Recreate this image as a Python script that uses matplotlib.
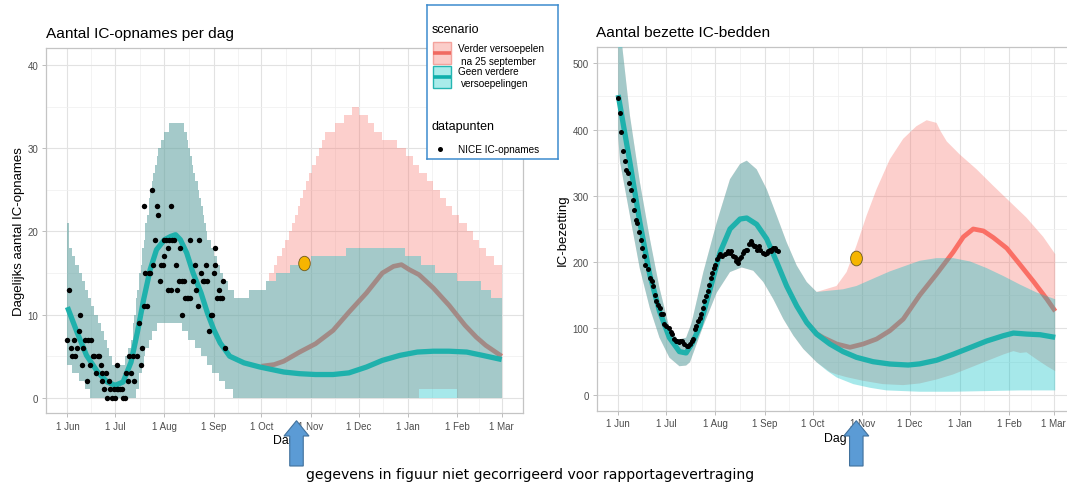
import numpy as np
import pandas as pd
import matplotlib
matplotlib.use("Agg")
import matplotlib.pyplot as plt
from matplotlib.patches import Polygon, Rectangle
from matplotlib.path import Path

plt.rcParams['font.family'] = ['Liberation Sans', 'DejaVu Sans']

# --- data: x = dagen sinds 1 juni 2020 ---
START = pd.Timestamp('2020-06-01')
month_starts = pd.date_range('2020-06-01', '2021-03-01', freq='MS')
month_labels = ['1 Jun', '1 Jul', '1 Aug', '1 Sep', '1 Oct', '1 Nov', '1 Dec', '1 Jan', '1 Feb', '1 Mar']
SPLIT_LEFT = 122     # 1 okt: scenario's lopen uiteen
SPLIT_RIGHT = 130

# links: IC-opnames per dag (trapvormige banden)
opn_hi_days = [0, 1, 3, 5, 7, 9, 11, 13, 15, 17, 19, 21, 23, 25, 26, 28, 36, 38, 40, 41,
               42, 43, 44, 45, 46, 47, 48, 49, 50, 51, 52, 53, 54, 55, 56, 57, 59, 61, 64, 73,
               75, 76, 77, 78, 79, 80, 82, 83, 84, 85, 86, 87, 88, 90, 92, 94, 96, 98, 101, 105,
               114, 125, 131, 140, 153, 175, 212, 222, 231, 245, 260, 266, 273]
opn_hi_vals = [21, 18, 17, 16, 15, 14, 13, 12, 11, 10, 9, 8, 7, 6, 5, 4, 5, 6, 7, 9,
               10, 12, 13, 15, 16, 18, 19, 21, 22, 24, 25, 26, 27, 28, 29, 30, 31, 32, 33, 32,
               31, 30, 29, 28, 27, 26, 25, 24, 23, 22, 21, 20, 19, 18, 17, 16, 15, 14, 13, 12,
               13, 14, 15, 16, 17, 18, 17, 16, 15, 14, 13, 12, 12]
opn_lo_days = [0, 3, 7, 11, 14, 43, 45, 47, 48, 49, 51, 53, 56, 72, 76, 80, 84, 88, 91, 95, 99, 104, 273]
opn_lo_vals = [4, 3, 2, 1, 0, 1, 3, 4, 5, 6, 7, 8, 9, 8, 7, 6, 5, 4, 3, 2, 1, 0, 0]
opn_red_hi_days = [125, 127, 130, 132, 135, 137, 139, 141, 143, 145, 146, 148, 150, 152, 154, 156, 158, 160,
                   162, 168, 174, 179, 183, 189, 193, 198, 207, 213, 217, 221, 226, 230, 234, 238, 242,
                   246, 251, 255, 259, 263, 268, 273]
opn_red_hi_vals = [14, 15, 16, 17, 18, 19, 20, 21, 22, 23, 24, 25, 26, 27, 28, 29, 30, 31,
                   32, 33, 34, 35, 34, 33, 32, 31, 30, 29, 28, 27, 26, 25, 24, 23, 22,
                   21, 20, 19, 18, 17, 16, 16]
opn_red_lo_days = [221, 245, 273]
opn_red_lo_vals = [1, 0, 0]
opn_line_days = [0, 6, 12, 19, 25, 30, 35, 40, 44, 48, 52, 56, 61, 65, 68, 71, 75, 79, 84, 88,
                 92, 96, 102, 111, 121, 136, 146, 156, 167, 177, 188, 198, 209, 220, 230, 240, 251, 261, 273]
opn_line_vals = [10.9, 7.9, 5.1, 3.1, 1.9, 1.5, 1.9, 4.3, 7.9, 11.9, 15.4, 17.8, 19.0, 19.4, 19.6, 19.0,
                 17.4, 15.0, 12.6, 10.2, 8.2, 6.6, 5.0, 4.2, 3.7, 3.1, 2.9, 2.8, 2.8, 3.0, 3.7, 4.5,
                 5.1, 5.5, 5.6, 5.6, 5.5, 5.1, 4.6]
opn_red_line_days = [122, 130, 136, 146, 156, 167, 177, 188, 198, 205, 210, 215, 221, 230, 240, 250, 257, 263, 273]
opn_red_line_vals = [3.8, 4.0, 4.4, 5.5, 6.5, 8.1, 10.3, 12.6, 15.0, 15.8, 16.0, 15.4, 14.8, 13.2, 11.1,
                     8.7, 7.3, 6.3, 5.0]
nice_opn_days = [0, 1, 2, 3, 4, 5, 6, 7, 8, 9, 10, 11, 12, 13, 14, 15, 16, 17, 18, 19,
                 20, 21, 22, 22, 23, 24, 25, 26, 27, 28, 29, 30, 31, 31, 32, 33, 34, 35, 36, 37,
                 38, 39, 40, 41, 42, 44, 45, 46, 47, 48, 48, 49, 50, 51, 52, 53, 54, 55, 56, 57,
                 58, 59, 60, 61, 61, 62, 63, 63, 64, 65, 65, 66, 67, 68, 69, 70, 71, 72, 72, 73,
                 74, 75, 76, 77, 77, 79, 80, 81, 82, 83, 84, 85, 86, 87, 88, 89, 90, 91, 92, 93,
                 93, 94, 95, 96, 97, 98, 99]
nice_opn_vals = [7, 13, 6, 5, 7, 5, 6, 8, 10, 4, 6, 7, 2, 7, 4, 7, 5, 5, 3, 5,
                 5, 4, 3, 2, 1, 3, 0, 2, 1, 0, 1, 0, 4, 1, 1, 1, 1, 0, 0, 3,
                 2, 5, 3, 5, 2, 5, 9, 4, 6, 11, 23, 15, 11, 15, 15, 25, 16, 19, 23, 22,
                 14, 16, 16, 17, 19, 19, 18, 13, 19, 23, 13, 19, 19, 16, 13, 14, 18, 14, 10, 14,
                 12, 12, 12, 19, 12, 14, 16, 13, 11, 19, 15, 14, 14, 16, 14, 8, 10, 10, 15, 18,
                 16, 12, 13, 12, 12, 14, 6]

# rechts: bezette IC-bedden
bed_hi_days = [0, 2.7, 7.3, 13.5, 19.8, 25.9, 32.1, 37.4, 42.6, 46, 53.4, 61.8, 70.1, 76.4, 80.6, 86.8,
               93.1, 99.4, 105.6, 111.9, 118.2, 124.4, 132.7, 141, 149.4, 159.8, 170.3, 180.8, 189, 199.6,
               210, 220.6, 231, 241.5, 252, 262.5, 274]
bed_hi_vals = [620, 522, 422, 322, 236, 161, 101, 83, 86, 108, 185, 260, 325, 348, 353, 340,
               310, 270, 230, 195, 170, 155, 157, 159, 164, 175, 186, 195, 202, 206,
               206, 201, 191, 179, 166, 154, 144]
bed_lo_days = [0, 1.1, 7.3, 13.5, 19.8, 25.9, 32.1, 38.4, 42.6, 45, 53.4, 61.8, 70.1, 77.4, 84.7, 91,
               97.3, 103.6, 109.9, 116.1, 124.4, 131, 137, 147.4, 157.8, 168.2, 189, 210, 231, 251.7, 274]
bed_lo_vals = [390, 352, 271, 191, 131, 86, 56, 43, 44, 49, 104, 154, 185, 192, 187, 170,
               144, 114, 89, 69, 49, 36, 26, 16, 10.5, 6.5, 4.5, 4.5, 5.5, 6.5, 6.5]
bed_red_hi_days = [132.7, 136.9, 143.2, 149.4, 155.7, 162, 170.3, 178.7, 187, 193.4, 199.6, 202, 206, 214.3,
                   224.7, 235.2, 245.6, 256, 266.5, 274]
bed_red_hi_vals = [161, 164, 185, 225, 270, 310, 355, 386, 405, 414, 410, 398, 382, 362, 340, 315, 291, 267, 238, 212]
bed_red_lo_days = [133, 137, 143.2, 153.6, 166, 178.7, 189, 199.6, 210, 220.6, 231, 241.5, 247.8,
                   252, 256, 262.5, 268.8, 274]
bed_red_lo_vals = [34, 30.6, 26.5, 21, 16, 14.5, 17, 23, 30.6, 40.7, 50.7, 60.7, 65.8, 63, 64, 53, 43, 35.6]
bed_line_days = [0, 7.3, 13.5, 19.8, 25.9, 32.1, 38.4, 42.6, 46.5, 51.3, 57.6, 63.9, 70.1, 76.4, 80.6,
                 86.8, 93.1, 99.4, 105.6, 111.9, 118.2, 124.4, 132.7, 141, 149.4, 159.8, 170.3, 181.8, 189,
                 199.6, 210, 220.6, 231, 241.5, 247.8, 256, 264.5, 274]
bed_line_vals = [452, 351, 261, 181, 126, 86, 65, 63, 78, 104, 159, 215, 250, 265, 266.5,
                 257, 235, 200, 164, 134, 109, 91.5, 76.5, 65, 56.4, 49.8, 46.3, 44.8, 46.5,
                 52, 61, 71, 81, 89, 93, 91.5, 90.5, 86.5]
bed_red_line_days = [118.2, 124.4, 128.6, 137, 145.3, 153.6, 162, 170.3, 178.7, 189, 199.6, 210, 216.4,
                     222.6, 229, 235.2, 243.6, 252, 260.3, 268.8, 274]
bed_red_line_vals = [109, 92, 86, 76.5, 71.5, 76.5, 84, 96.5, 114, 150, 182, 215, 238, 250, 247, 237,
                     221, 196, 171, 144, 126]
nice_bed_days = [0, 1, 2, 3, 4, 5, 6, 7, 8, 9, 10, 11, 12, 13, 14, 15, 16, 17, 19, 20,
                 21, 22, 23, 24, 25, 26, 27, 28, 29, 30, 32, 33, 34, 35, 36, 37, 38, 39, 40, 41,
                 43, 44, 45, 46, 47, 48, 49, 50, 51, 52, 53, 54, 55, 56, 57, 58, 59, 60, 61, 62,
                 63, 64, 65, 67, 68, 69, 70, 71, 72, 73, 74, 75, 76, 77, 78, 79, 80, 81, 82, 83,
                 84, 85, 86, 87, 88, 89, 91, 92, 93, 94, 95, 96, 97, 98, 99, 100]
nice_bed_vals = [448, 425, 397, 367, 352, 339, 334, 319, 309, 294, 279, 264, 259, 246, 234, 221, 209, 196, 189, 176,
                 171, 164, 151, 141, 136, 131, 121, 121, 106, 104, 101, 94, 91, 84, 81, 81, 79, 81, 81, 76,
                 73, 73, 76, 81, 84, 99, 104, 111, 116, 121, 131, 141, 149, 156, 166, 176, 184, 191, 196, 204,
                 209, 212, 209, 212, 214, 217, 214, 217, 209, 207, 202, 199, 204, 207, 214, 217, 219, 219, 227, 232,
                 227, 224, 224, 219, 224, 219, 214, 212, 214, 217, 219, 217, 221, 222, 219, 217]

# gele markering (eind oktober)
mark_day = 149
mark_opn = 16.2
mark_bed = 206

RED = '#F8766D'
RED_LINE = '#FA6F65'
CYAN = '#00BFC4'
TEAL_LINE = '#1fb1ac'
W, H = 1067, 485


def box(l, t, r, b):
    return [l / W, 1 - b / H, (r - l) / W, (b - t) / H]


def stairs(days, vals):
    d = np.repeat(np.asarray(days, float), 2)[1:]
    v = np.repeat(np.asarray(vals, float), 2)[:-1]
    return d, v


def ribbon(ax, dh, vh, dl, vl, color, z, step=False):
    dh, vh, dl, vl = [np.asarray(a, float) for a in (dh, vh, dl, vl)]
    if step:
        dh, vh = stairs(dh, vh)
        dl, vl = stairs(dl, vl)
    ax.fill(np.r_[dh, dl[::-1]], np.r_[vh, vl[::-1]], color=color, alpha=0.35, lw=0, zorder=z)


def before(days, vals, cut):
    days = np.asarray(days, float)
    vals = np.asarray(vals, float)
    m = days < cut
    return days[m], vals[m]


def style(ax, ylim, yticks, ylabel, title, title_pad, ylabelpad):
    tick_days = (month_starts - START).days.values
    ax.set_xlim(-13.6, 286.4)
    ax.set_ylim(*ylim)
    ax.set_xticks(tick_days)
    ax.set_xticklabels(month_labels)
    ax.set_xticks((tick_days[:-1] + tick_days[1:]) / 2, minor=True)
    ax.set_yticks(yticks)
    ax.set_yticks(np.array(yticks[:-1]) + (yticks[1] - yticks[0]) / 2, minor=True)
    ax.grid(which='major', color='#e2e2e2', lw=0.8)
    ax.grid(which='minor', color='#efefef', lw=0.5)
    ax.set_axisbelow(True)
    ax.tick_params(which='major', length=3, width=0.6, color='#b3b3b3',
                   labelsize=7, labelcolor='#4d4d4d', pad=2.5)
    ax.tick_params(which='minor', length=0)
    for s in ax.spines.values():
        s.set_color('#c4c4c4')
        s.set_linewidth(0.9)
    ax.set_xlabel('Dag', fontsize=8.8, labelpad=2.5)
    ax.set_ylabel(ylabel, fontsize=9.5, labelpad=ylabelpad)
    ax.set_title(title, loc='left', fontsize=11.1, pad=title_pad)


circ = Path.unit_circle()
oval = Path(circ.vertices * np.array([0.8, 1.0]), circ.codes)

fig = plt.figure(figsize=(W / 100, H / 100), dpi=100)

# ---- links ----
ax1 = fig.add_axes(box(45.8, 49.3, 523, 414.3))
d, v = before(opn_hi_days, opn_hi_vals, SPLIT_LEFT)
red_hi_d, red_hi_v = np.r_[d, opn_red_hi_days], np.r_[v, opn_red_hi_vals]
d, v = before(opn_lo_days, opn_lo_vals, SPLIT_LEFT)
red_lo_d, red_lo_v = np.r_[d, opn_red_lo_days], np.r_[v, opn_red_lo_vals]
ribbon(ax1, red_hi_d, red_hi_v, red_lo_d, red_lo_v, RED, 2, step=True)
ax1.plot(opn_red_line_days, opn_red_line_vals, color=RED_LINE, lw=3.4, solid_capstyle='butt',
         solid_joinstyle='round', zorder=3)
ribbon(ax1, opn_hi_days, opn_hi_vals, opn_lo_days, opn_lo_vals, CYAN, 4, step=True)
ax1.plot(opn_line_days, opn_line_vals, color=TEAL_LINE, lw=3.8, solid_capstyle='butt',
         solid_joinstyle='round', zorder=5)
ax1.plot(nice_opn_days, nice_opn_vals, 'o', color='black', ms=3.9, mew=0, zorder=6)
ax1.plot(mark_day, mark_opn, marker=oval, ms=10.4, mfc='#f6b500', mec='#6b5a20', mew=0.6, ls='none', zorder=7)
style(ax1, (-1.86, 42.0), [0, 10, 20, 30, 40], 'Dagelijks aantal IC-opnames',
      'Aantal IC-opnames per dag', 8, 1.5)

# ---- rechts ----
ax2 = fig.add_axes(box(596.5, 47.7, 1075, 411.7))
d, v = before(bed_hi_days, bed_hi_vals, SPLIT_RIGHT)
red_hi_d, red_hi_v = np.r_[d, bed_red_hi_days], np.r_[v, bed_red_hi_vals]
d, v = before(bed_lo_days, bed_lo_vals, SPLIT_RIGHT)
red_lo_d, red_lo_v = np.r_[d, bed_red_lo_days], np.r_[v, bed_red_lo_vals]
ribbon(ax2, red_hi_d, red_hi_v, red_lo_d, red_lo_v, RED, 2)
ax2.plot(bed_red_line_days, bed_red_line_vals, color=RED_LINE, lw=3.4, solid_capstyle='butt',
         solid_joinstyle='round', zorder=3)
ribbon(ax2, bed_hi_days, bed_hi_vals, bed_lo_days, bed_lo_vals, CYAN, 4)
ax2.plot(bed_line_days, bed_line_vals, color=TEAL_LINE, lw=3.8, solid_capstyle='butt',
         solid_joinstyle='round', zorder=5)
ax2.plot(nice_bed_days, nice_bed_vals, 'o', color='black', ms=3.6, mew=0, zorder=6)
ax2.plot(mark_day, mark_bed, marker=oval, ms=10.6, mfc='#f6b500', mec='#6b5a20', mew=0.6, ls='none', zorder=7)
style(ax2, (-24.1, 524.9), [0, 100, 200, 300, 400, 500], 'IC-bezetting',
      'Aantal bezette IC-bedden', 7.6, 3)

# ---- legenda (handmatig, in pixels binnen het kader) ----
lg = fig.add_axes(box(427, 6, 558, 160), zorder=5)
lg.set_xlim(0, 131)
lg.set_ylim(154, 0)
lg.set_xticks([])
lg.set_yticks([])
for s in lg.spines.values():
    s.set_color('#3d8cce')
    s.set_linewidth(1.1)
lg.text(4.7, 24, 'scenario', fontsize=9, va='center', ha='left')
lg.add_patch(Rectangle((5.7, 37.3), 18, 21.7, facecolor='#fbcdc9', edgecolor='#f4a39d', lw=1))
lg.plot([5.7, 23.7], [47.8, 47.8], color='#f06b62', lw=2.6, solid_capstyle='butt')
lg.add_patch(Rectangle((5.7, 60.7), 18, 22.6, facecolor='#a9ecea', edgecolor='#25b6b2', lw=1))
lg.plot([5.7, 23.7], [71.5, 71.5], color='#0fb0ac', lw=2.6, solid_capstyle='butt')
for tx, ty, s in [(31.3, 43.3, 'Verder versoepelen'), (33.7, 55.7, 'na 25 september'),
                  (31.3, 65.7, 'Geen verdere'), (33.7, 78.3, 'versoepelingen')]:
    lg.text(tx, ty, s, fontsize=7.2, va='center', ha='left')
lg.text(4.7, 120.7, 'datapunten', fontsize=9, va='center', ha='left')
lg.plot([13], [144], 'o', color='black', ms=3.6, mew=0)
lg.text(31.3, 144, 'NICE IC-opnames', fontsize=7.2, va='center', ha='left')


# ---- pijlen en bijschrift ----
def arrow_px(cx, tip, base, bottom, shaft_w, head_w):
    pts = [(cx - shaft_w / 2, bottom), (cx - shaft_w / 2, base), (cx - head_w / 2, base), (cx, tip),
           (cx + head_w / 2, base), (cx + shaft_w / 2, base), (cx + shaft_w / 2, bottom)]
    return [(x / W, 1 - y / H) for x, y in pts]


for cx in (296.5, 856.3):
    fig.add_artist(Polygon(arrow_px(cx, 421.7, 437, 467, 13.5, 25), closed=True,
                           transform=fig.transFigure, facecolor='#5b9bd5',
                           edgecolor='#41719c', lw=0.8, zorder=10))

fig.text(306.5 / W, 1 - 475 / H, 'gegevens in figuur niet gecorrigeerd voor rapportagevertraging',
         family='DejaVu Sans', fontsize=10.1, va='center', ha='left', color='black')

fig.savefig('out.png', dpi=100)
